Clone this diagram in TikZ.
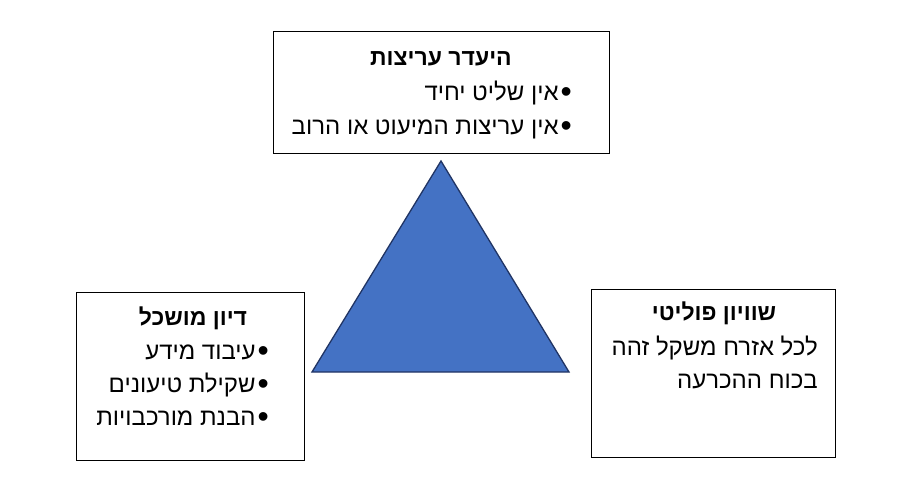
\documentclass[tikz,border=0pt]{standalone}
\usepackage{fontspec}
\setmainfont{Liberation Sans}
\newfontfamily\hebfont[Script=Hebrew]{Liberation Sans}
\TeXXeTstate=1
\newcommand{\heb}[1]{\beginR #1\endR}
\newcommand{\blt}{\raisebox{-2pt}{\fontsize{32}{24}\selectfont•}\hspace{2pt}}
\definecolor{triblue}{HTML}{4472C4}
\definecolor{triedge}{RGB}{32,52,100}
\begin{document}
\begin{tikzpicture}[x=1pt,y=-1pt, every node/.style={font=\hebfont\fontsize{24}{28}\selectfont,inner sep=0pt},
  box/.style={draw,line width=1pt,fill=white},
  head/.style={anchor=base,font=\hebfont\bfseries\fontsize{23}{28}\selectfont},
  item/.style={anchor=base east}]
\useasboundingbox (0,0) rectangle (916,487);
\node[box,minimum width=336pt,minimum height=121pt] (top) at (441,92.5) {};
\node[box,minimum width=228pt,minimum height=168pt] (left) at (190,376) {};
\node[box,minimum width=244pt,minimum height=168pt] (right) at (713,373) {};
\draw[fill=triblue,draw=triedge,line width=1.3pt,line join=miter] (441,161) -- (312,372) -- (569,372) -- cycle;
\node[head] (toph) at (441,66) {\heb{היעדר עריצות}};
\node[item] (top1) at (572,100) {\heb{\blt אין שליט יחיד}};
\node[item] (top2) at (572,134) {\heb{\blt אין עריצות המיעוט או הרוב}};
\node[head] (lefth) at (193,325) {\heb{דיון מושכל}};
\node[item] (left1) at (269,359) {\heb{\blt עיבוד מידע}};
\node[item] (left2) at (269,392) {\heb{\blt שקילת טיעונים}};
\node[item] (left3) at (269,425) {\heb{\blt הבנת מורכבויות}};
\node[head] (righth) at (714,320) {\heb{שוויון פוליטי}};
\node[item] (right1) at (818,355) {\heb{לכל אזרח משקל זהה}};
\node[item] (right2) at (818,388) {\heb{בכוח ההכרעה}};
\end{tikzpicture}
\end{document}
